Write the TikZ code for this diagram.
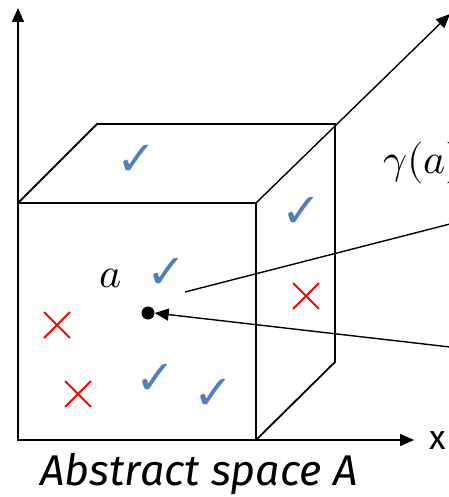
\documentclass[tikz,border=0pt]{standalone}
\usepackage{unicode-math}
\setmathfont{Latin Modern Math}
\newfontfamily\symfont{DejaVu Sans}
\newfontfamily\labelfont{Fira Sans}
\usepackage{xcolor}
\definecolor{checkblue}{HTML}{4F81BD}
\definecolor{crossred}{HTML}{FF0000}
\usepackage{tikz}
\usetikzlibrary{arrows.meta,shapes.misc}

\begin{document}
\begin{tikzpicture}[
  x=1pt,y=-1pt,
  edge/.style={line width=1.8pt,line join=miter},
  axis/.style={line width=1.4pt,-{Triangle[length=14pt,width=12pt]}},
  link/.style={line width=1.4pt},
  tick/.style={font=\symfont\bfseries\fontsize{48}{48}\selectfont,text=checkblue,inner sep=0pt},
  wrong/.style={cross out,draw=crossred,line width=1.8pt,minimum size=24pt,inner sep=0pt},
  point/.style={circle,fill=black,minimum size=13pt,inner sep=0pt}
]
\useasboundingbox (0,0) rectangle (448,497);
% cube corners
\coordinate (fbl) at (18,440);
\coordinate (fbr) at (256,440);
\coordinate (ftl) at (18,203);
\coordinate (ftr) at (256,203);
\coordinate (btl) at (97,124);
\coordinate (btr) at (335,124);
\coordinate (bbr) at (335,362);
% axes ends
\coordinate (ytop) at (18,8);
\coordinate (xend) at (414,440);
\coordinate (zend) at (450,14);
\draw[axis] (fbl) -- (ytop);
\draw[axis] (fbr) -- (xend);
\draw[axis] (ftr) -- (zend);
% cube
\draw[edge] (fbl) rectangle (ftr);
\draw[edge] (ftl) -- (btl) -- (btr) -- (bbr) -- (fbr);
\node[font=\labelfont\fontsize{34}{34}\selectfont,inner sep=0pt] (xlab) at (438,441) {x};
% marks
\node[tick] (t1) at (137,160) {✓};
\node[tick] (t2) at (302,212) {✓};
\node[tick] (t3) at (167,273) {✓};
\node[tick] (t4) at (156,379) {✓};
\node[tick] (t5) at (214,394) {✓};
\node[wrong] (x1) at (57,325) {};
\node[wrong] (x2) at (78,394) {};
\node[wrong] (x3) at (306,296) {};
% point a and its image
\node[point] (dot) at (148,313) {};
\node[font=\fontsize{42}{42}\selectfont,inner sep=0pt] (alab) at (111,278) {$a$};
\node[font=\fontsize{42}{42}\selectfont,anchor=west,inner sep=0pt] (glab) at (383,163) {$\gamma(a)$};
\coordinate (outend) at (450,224);
\coordinate (inend) at (450,347);
\draw[link] (185,292) -- (outend);
\draw[link,-{Triangle[length=14pt,width=12pt]}] (inend) -- (dot.east);
\node[font=\labelfont\itshape\fontsize{43}{43}\selectfont,inner sep=0pt] (title) at (199,474) {Abstract space A};
\end{tikzpicture}
\end{document}
